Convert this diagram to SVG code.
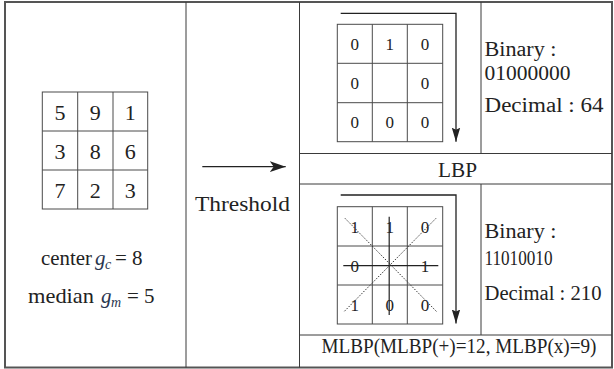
<svg xmlns="http://www.w3.org/2000/svg" width="614" height="369" viewBox="0 0 614 369">
  <style>
    .frame { fill: none; stroke: #555; stroke-width: 2; }
    .rule { stroke: #3a3a3a; stroke-width: 1; fill: none; }
    .grid { stroke: #4a4a4a; stroke-width: 1; fill: none; }
    text { font-family: "Times New Roman", Tinos, "Noto Serif", FreeSerif, "Liberation Serif", "DejaVu Serif", serif; fill: #222; }
    .big { font-size: 22px; text-anchor: middle; }
    .mid { font-size: 17px; text-anchor: middle; }
    .lab { font-size: 20px; }
    .var { font-style: italic; fill: #2a3650; }
    .solid { stroke: #222; stroke-width: 1.2; fill: none; }
    .dot { stroke: #333; stroke-width: 1; stroke-dasharray: 1.5 1.5; fill: none; }
    .arr { stroke: #222; stroke-width: 1.3; fill: none; }
  </style>
  <defs>
    <marker id="headWide" markerUnits="userSpaceOnUse" markerWidth="18" markerHeight="12" refX="16" refY="6" orient="auto">
      <path d="M16,6 L0,0.5 L4,6 L0,11.5 Z" fill="#222"/>
    </marker>
    <marker id="headDown" markerUnits="userSpaceOnUse" markerWidth="16" markerHeight="10" refX="14" refY="5" orient="auto">
      <path d="M14,5 L0,0.8 L2,5 L0,9.2 Z" fill="#222"/>
    </marker>
  </defs>

  <!-- table frame and dividers -->
  <g id="table">
    <rect class="frame" x="5" y="2" width="607" height="365.5"/>
    <line class="rule" x1="186" y1="2" x2="186" y2="367.5"/>
    <line class="rule" x1="299.5" y1="2" x2="299.5" y2="367.5"/>
    <line class="rule" x1="299.5" y1="153.5" x2="612" y2="153.5"/>
    <line class="rule" x1="299.5" y1="184" x2="612" y2="184"/>
    <line class="rule" x1="299.5" y1="335" x2="612" y2="335"/>
    <line class="rule" x1="481" y1="2" x2="481" y2="153.5"/>
    <line class="rule" x1="481" y1="184" x2="481" y2="335"/>
  </g>

  <!-- input neighbourhood -->
  <g id="input">
    <rect class="grid" x="42.3" y="92" width="105.4" height="117"/>
    <line class="grid" x1="77.7" y1="92" x2="77.7" y2="209"/>
    <line class="grid" x1="113" y1="92" x2="113" y2="209"/>
    <line class="grid" x1="42.3" y1="131" x2="147.7" y2="131"/>
    <line class="grid" x1="42.3" y1="170" x2="147.7" y2="170"/>
    <text class="big" x="60" y="119.5">5</text>
    <text class="big" x="95.3" y="119.5">9</text>
    <text class="big" x="130.3" y="119.5">1</text>
    <text class="big" x="60" y="158.5">3</text>
    <text class="big" x="95.3" y="158.5">8</text>
    <text class="big" x="130.3" y="158.5">6</text>
    <text class="big" x="60" y="197.5">7</text>
    <text class="big" x="95.3" y="197.5">2</text>
    <text class="big" x="130.3" y="197.5">3</text>
    <text font-size="21" x="41" y="265" textLength="51" lengthAdjust="spacingAndGlyphs">center</text>
    <text class="var" font-size="21" x="95" y="265">g</text>
    <text class="var" font-size="14" x="105" y="269">c</text>
    <text font-size="21" x="115" y="265">= 8</text>
    <text font-size="21" x="28" y="303" textLength="66" lengthAdjust="spacingAndGlyphs">median</text>
    <text class="var" font-size="21" x="101" y="303">g</text>
    <text class="var" font-size="14" x="111" y="307">m</text>
    <text font-size="21" x="127" y="303">= 5</text>
  </g>

  <!-- threshold step -->
  <g id="threshold">
    <text font-size="22" x="195" y="211" textLength="95" lengthAdjust="spacingAndGlyphs">Threshold</text>
  </g>

  <!-- LBP code -->
  <g id="lbp">
    <rect class="grid" x="337.3" y="24.3" width="105.4" height="117.4"/>
    <line class="grid" x1="372.3" y1="24.3" x2="372.3" y2="141.7"/>
    <line class="grid" x1="407.3" y1="24.3" x2="407.3" y2="141.7"/>
    <line class="grid" x1="337.3" y1="63.3" x2="442.7" y2="63.3"/>
    <line class="grid" x1="337.3" y1="102.7" x2="442.7" y2="102.7"/>
    <text class="mid" x="354.8" y="50">0</text>
    <text class="mid" x="389.8" y="50">1</text>
    <text class="mid" x="425" y="50">0</text>
    <text class="mid" x="354.8" y="89.2">0</text>
    <text class="mid" x="425" y="89.2">0</text>
    <text class="mid" x="354.8" y="128.4">0</text>
    <text class="mid" x="389.8" y="128.4">0</text>
    <text class="mid" x="425" y="128.4">0</text>
    <text class="lab" x="484.5" y="55.5" textLength="72" lengthAdjust="spacingAndGlyphs">Binary :</text>
    <text class="lab" x="484.5" y="80" textLength="86" lengthAdjust="spacingAndGlyphs">01000000</text>
    <text class="lab" x="484.5" y="111.5" textLength="119" lengthAdjust="spacingAndGlyphs">Decimal : 64</text>
  </g>

  <g id="lbp-label">
    <text font-size="20" x="438" y="176.7" textLength="39" lengthAdjust="spacingAndGlyphs">LBP</text>
  </g>

  <!-- MLBP code -->
  <g id="mlbp">
    <rect class="grid" x="337.3" y="206.7" width="105.4" height="117.3"/>
    <line class="grid" x1="372.3" y1="206.7" x2="372.3" y2="324"/>
    <line class="grid" x1="407.3" y1="206.7" x2="407.3" y2="324"/>
    <line class="grid" x1="337.3" y1="246" x2="442.7" y2="246"/>
    <line class="grid" x1="337.3" y1="285" x2="442.7" y2="285"/>
    <text class="mid" x="354.8" y="232.5">1</text>
    <text class="mid" x="389.8" y="232.5">1</text>
    <text class="mid" x="425" y="232.5">0</text>
    <text class="mid" x="354.8" y="271.7">0</text>
    <text class="mid" x="425" y="271.7">1</text>
    <text class="mid" x="354.8" y="310.7">1</text>
    <text class="mid" x="389.8" y="310.7">0</text>
    <text class="mid" x="425" y="310.7">0</text>
    <!-- cross (+) and diagonal (x) directions -->
    <line class="solid" x1="389.2" y1="216.7" x2="389.2" y2="315"/>
    <line class="solid" x1="343.3" y1="265.7" x2="438.3" y2="265.7"/>
    <line class="dot" x1="345" y1="218.3" x2="436.7" y2="311.7"/>
    <line class="dot" x1="436" y1="218.3" x2="344" y2="311.7"/>
    <text class="lab" x="484.5" y="238.3" textLength="72" lengthAdjust="spacingAndGlyphs">Binary :</text>
    <text class="lab" x="484.5" y="265" textLength="68" lengthAdjust="spacingAndGlyphs">11010010</text>
    <text class="lab" x="484.5" y="300" textLength="117" lengthAdjust="spacingAndGlyphs">Decimal : 210</text>
  </g>

  <g id="mlbp-label">
    <text font-size="20" x="321.5" y="353.3" textLength="275" lengthAdjust="spacingAndGlyphs">MLBP(MLBP(+)=12, MLBP(x)=9)</text>
  </g>

  <!-- connectors -->
  <g id="connectors">
    <line class="arr" x1="202.3" y1="166.7" x2="285.7" y2="166.7" marker-end="url(#headWide)"/>
    <polyline class="arr" points="340.7,13.3 456,13.3 456,141.7" marker-end="url(#headDown)"/>
    <polyline class="arr" points="340.7,195 456,195 456,323.5" marker-end="url(#headDown)"/>
  </g>
</svg>
